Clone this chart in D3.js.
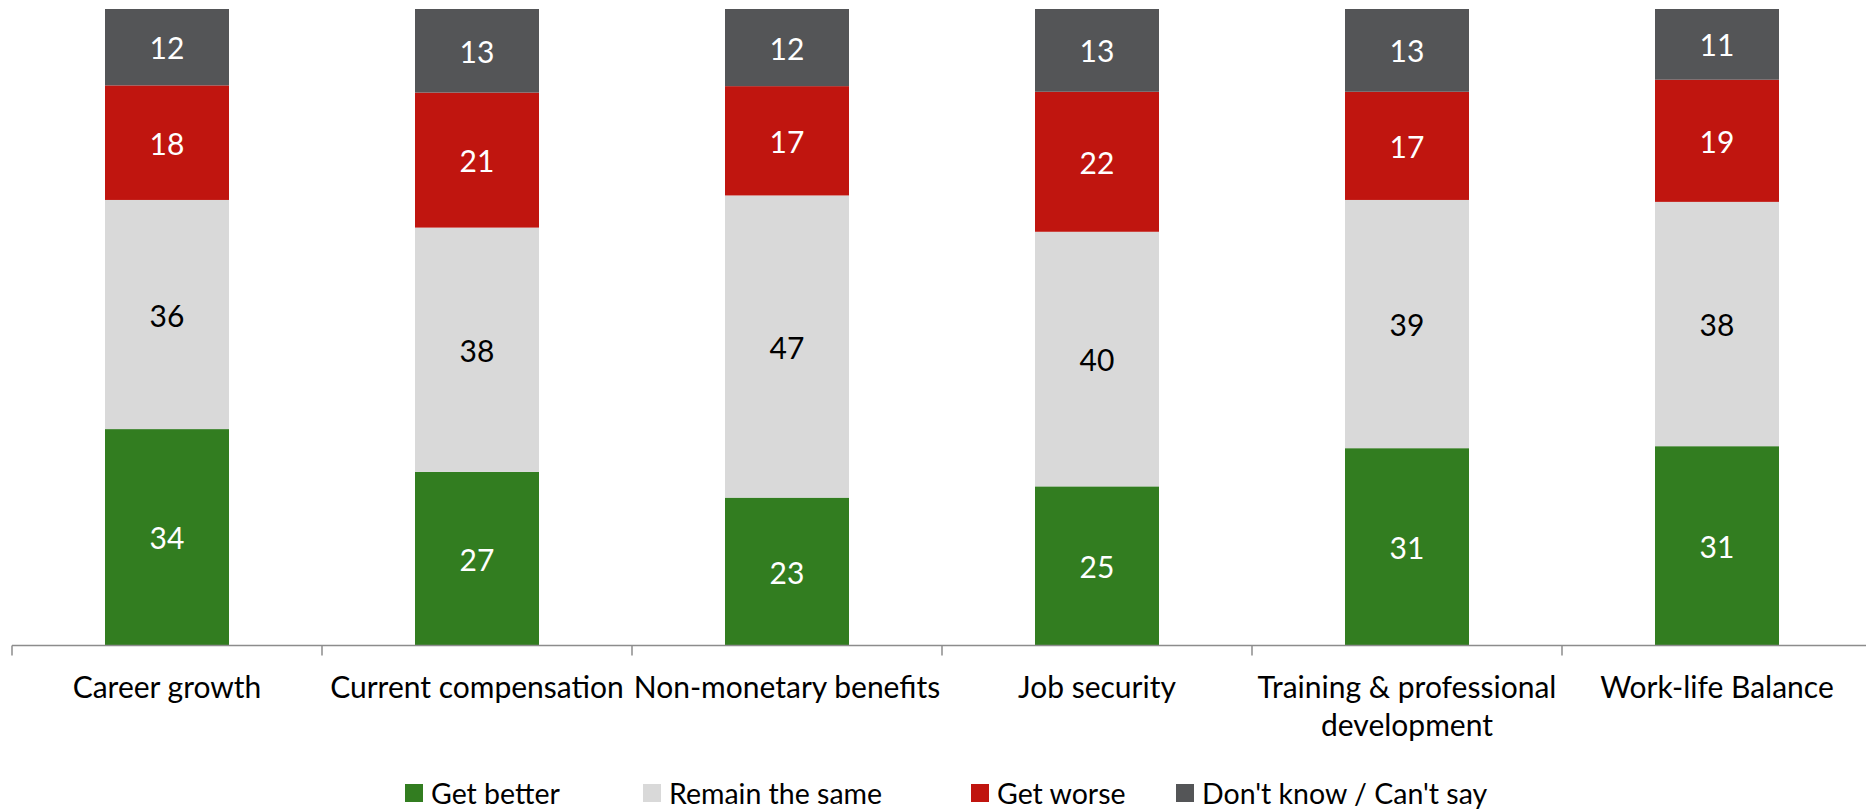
<!DOCTYPE html>
<html>
<head>
<meta charset="utf-8">
<script src="https://cdn.jsdelivr.net/npm/d3@7"></script>
<style>
  html, body { margin: 0; padding: 0; background: #fff; }
  svg { display: block; }
</style>
</head>
<body>
<svg id="chart" width="1866" height="811"></svg>
<script>
// ---- Data ----
const categories = ["Career growth", "Current compensation", "Non-monetary benefits", "Job security", "Training & professional development", "Work-life Balance"];
const seriesNames = ["Get better", "Remain the same", "Get worse", "Don't know / Can't say"];
const getBetter     = [34, 27, 23, 25, 31, 31];
const remainSame    = [36, 38, 47, 40, 39, 38];
const getWorse      = [18, 21, 17, 22, 17, 19];
const dontKnow      = [12, 13, 12, 13, 13, 11];
const seriesValues = [getBetter, remainSame, getWorse, dontKnow];

// ---- Style ----
const colors = ["#327d20", "#d9d9d9", "#c0150f", "#545557"];
const labelColors = ["#ffffff", "#000000", "#ffffff", "#ffffff"];
const FONT = "Lato, 'Open Sans', sans-serif";
const FS = "30px";

const svg = d3.select("#chart");
const axisY = 645.5;

const x = d3.scaleBand().domain(categories).range([12, 1872]).paddingInner(0.6).paddingOuter(0.3);
const y = d3.scaleLinear().domain([0, 1]).range([axisY, 9]);

const table = categories.map((c, i) => {
  const row = { category: c };
  seriesNames.forEach((s, j) => row[s] = seriesValues[j][i]);
  return row;
});
// 100% stacked columns
const stacked = d3.stack().keys(seriesNames).offset(d3.stackOffsetExpand)(table);
stacked.forEach((s, j) => s.forEach((d, i) => d.value = seriesValues[j][i]));

const groups = svg.append("g").selectAll("g").data(stacked).join("g")
  .attr("fill", (d, i) => colors[i]);

groups.selectAll("rect").data(d => d).join("rect")
  .attr("x", d => x(d.data.category))
  .attr("width", x.bandwidth())
  .attr("y", d => y(d[1]))
  .attr("height", d => y(d[0]) - y(d[1]));

// data labels
svg.append("g").selectAll("g").data(stacked).join("g")
  .attr("fill", (d, i) => labelColors[i])
  .selectAll("text").data(d => d).join("text")
  .attr("x", d => x(d.data.category) + x.bandwidth() / 2)
  .attr("y", d => (y(d[0]) + y(d[1])) / 2)
  .attr("text-anchor", "middle")
  .attr("dominant-baseline", "central")
  .style("font-family", FONT)
  .style("font-size", FS)
  .text(d => d.value);

// axis line + boundary ticks
const step = x.step();
const off = (step - x.bandwidth()) / 2;
const ax = svg.append("g").attr("stroke", "#8c8c8c").attr("stroke-width", 1.5);
ax.append("line").attr("x1", 12).attr("x2", 1866).attr("y1", axisY).attr("y2", axisY);
const bounds = categories.map(c => x(c) - off);
ax.selectAll("line.t").data(bounds).join("line").attr("class", "t")
  .attr("x1", d => d).attr("x2", d => d).attr("y1", axisY).attr("y2", axisY + 10);

// category labels (wrapping)
const catG = svg.append("g").style("font-family", FONT).style("font-size", FS).attr("fill", "#000");
categories.forEach(c => {
  const cx = x(c) + x.bandwidth() / 2;
  const t = catG.append("text").attr("x", cx).attr("y", 698).attr("text-anchor", "middle");
  const words = c.split(" ");
  let line = [], tspan = t.append("tspan").attr("x", cx).attr("dy", 0);
  words.forEach(w => {
    line.push(w);
    tspan.text(line.join(" "));
    if (tspan.node().getComputedTextLength() > step + 30 && line.length > 1) {
      line.pop();
      tspan.text(line.join(" "));
      line = [w];
      tspan = t.append("tspan").attr("x", cx).attr("dy", 38).text(w);
    }
  });
});

// legend
const legendX = [405, 643, 971, 1176];
const leg = svg.append("g").selectAll("g").data(seriesNames).join("g")
  .attr("transform", (d, i) => `translate(${legendX[i]},784)`);
leg.append("rect").attr("width", 18).attr("height", 18).attr("fill", (d, i) => colors[i]);
leg.append("text").attr("x", 26).attr("y", 9).attr("dominant-baseline", "central")
  .style("font-family", FONT).style("font-size", "28.5px").attr("fill", "#000").text(d => d);
</script>
</body>
</html>
